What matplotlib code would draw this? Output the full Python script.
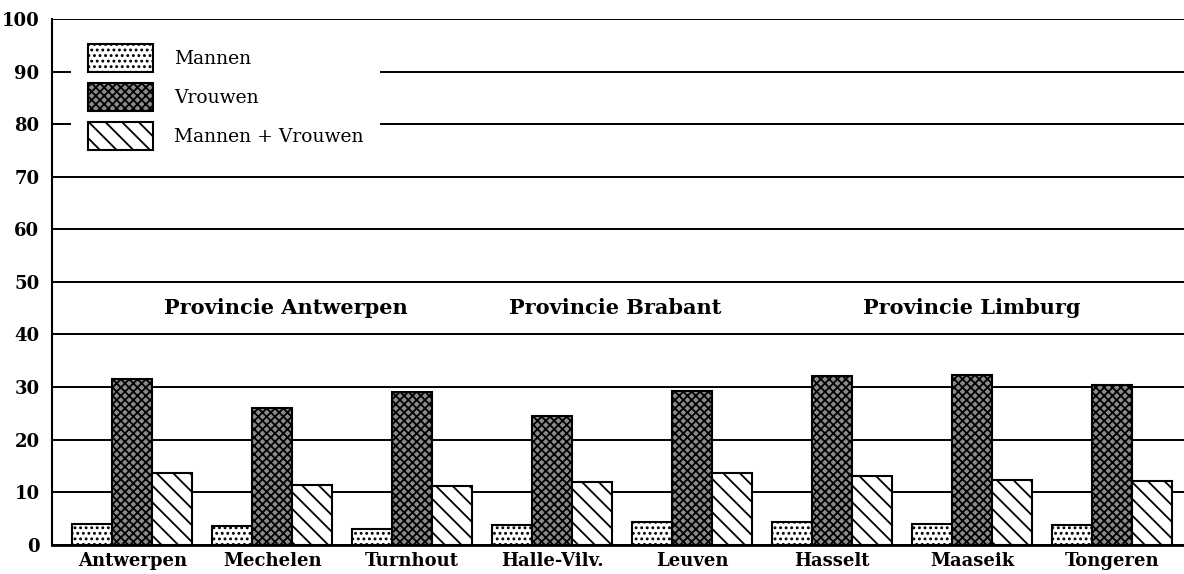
import numpy as np
import matplotlib
matplotlib.use('Agg')
import matplotlib.pyplot as plt

# arrondissementen en percentages
steden = ['Antwerpen', 'Mechelen', 'Turnhout', 'Halle-Vilv.', 'Leuven',
          'Hasselt', 'Maaseik', 'Tongeren']
mannen = [3.9, 3.6, 3.0, 3.8, 4.3, 4.3, 4.0, 3.8]
vrouwen = [31.6, 26.1, 29.0, 24.5, 29.3, 32.1, 32.2, 30.4]
mannen_vrouwen = [13.6, 11.4, 11.1, 11.9, 13.6, 13.0, 12.4, 12.1]

provincies = ['Provincie Antwerpen', 'Provincie Brabant', 'Provincie Limburg']
prov_x = [1.1, 3.45, 6.0]
prov_y = 45

plt.rcParams['font.family'] = 'DejaVu Serif'
plt.rcParams['hatch.linewidth'] = 1.3

fig = plt.figure(figsize=(11.84, 5.74), dpi=100)
ax = fig.add_axes([0.0439, 0.051, 0.9561, 0.9159])

x = np.arange(len(steden))
w = 0.286

ax.bar(x - w, mannen, w, facecolor='white', edgecolor='black', hatch='...',
       linewidth=1.5, label='Mannen', zorder=3)
ax.bar(x, vrouwen, w, facecolor='#8a8a8a', edgecolor='black', hatch='xxxx',
       linewidth=1.5, label='Vrouwen', zorder=3)
ax.bar(x + w, mannen_vrouwen, w, facecolor='white', edgecolor='black', hatch='\\\\',
       linewidth=1.5, label='Mannen + Vrouwen', zorder=3)

for naam, px in zip(provincies, prov_x):
    ax.text(px, prov_y, naam, ha='center', va='center', fontsize=15,
            fontweight='bold', zorder=4)

ax.set_xlim(-0.573, 7.513)
ax.set_ylim(0, 100)
ax.set_yticks(np.arange(0, 101, 10))
ax.set_xticks(x)
ax.set_xticklabels(steden)
ax.tick_params(axis='both', length=0, labelsize=13)
ax.tick_params(axis='y', pad=9)
ax.tick_params(axis='x', pad=5)
for lab in ax.get_xticklabels() + ax.get_yticklabels():
    lab.set_fontweight('bold')

ax.yaxis.grid(True, color='black', linewidth=1.4, zorder=0)
ax.set_axisbelow(True)
ax.spines['top'].set_visible(False)
ax.spines['right'].set_visible(False)
ax.spines['left'].set_linewidth(1.5)
ax.spines['bottom'].set_linewidth(2)

leg = ax.legend(loc='upper left', bbox_to_anchor=(0.0168, 0.985), borderaxespad=0,
                fontsize=13.5, frameon=True, facecolor='white', edgecolor='none',
                framealpha=1, fancybox=False, borderpad=0.9, handlelength=3.5,
                handleheight=1.9, labelspacing=0.6, handletextpad=1.1)
leg.set_zorder(5)

fig.savefig('out.png', dpi=100)
